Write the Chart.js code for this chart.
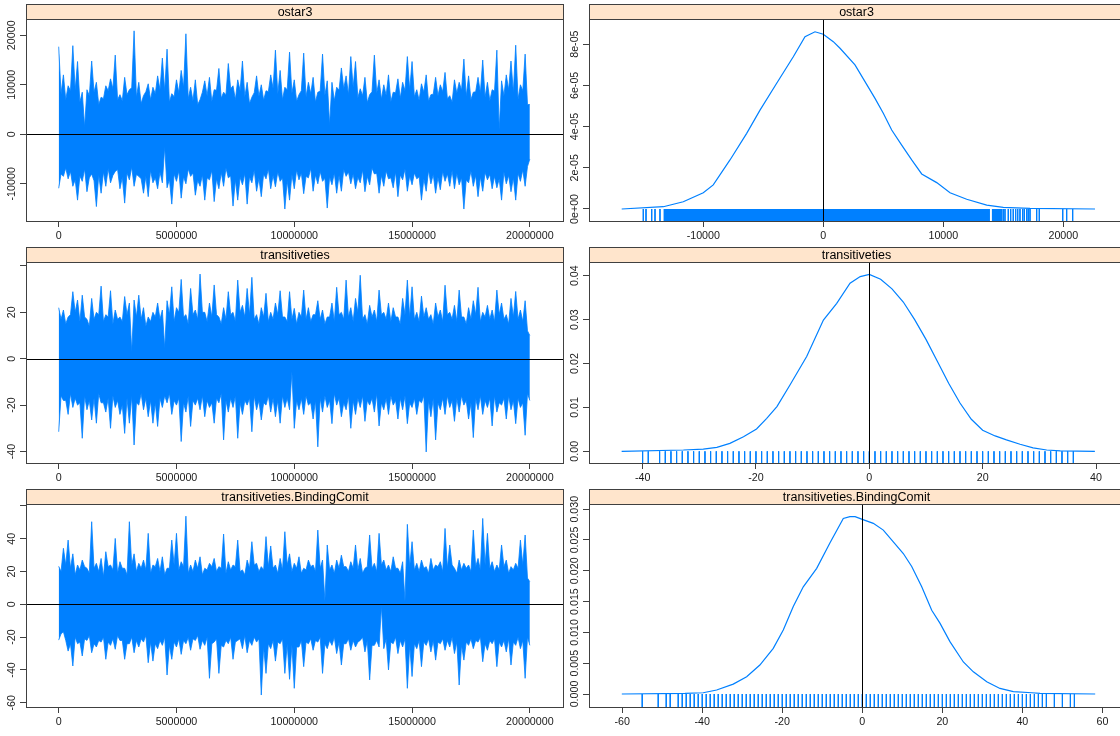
<!DOCTYPE html>
<html>
<head>
<meta charset="utf-8">
<script src="https://cdn.jsdelivr.net/npm/chart.js@4"></script>
<style>
  html, body { margin: 0; padding: 0; width: 1120px; height: 736px; overflow: hidden; background: #fff; }
  canvas { position: absolute; left: 0; top: 0; }
</style>
</head>
<body>
<script>
// MCMC diagnostics: trace (left) and density (right) for three ERGM terms

// iteration axis
const iterTicks = [0, 5000000, 10000000, 15000000, 20000000];
const thin = 200000;
const lastIter = 20000000;

// trace outline: block maxima/minima (hi, lo) and the levels the chain
// falls back to between them (vHi, vLo)
const ostar3Hi = [17700, 12000, 9800, 17900, 14700, 8500, 9000, 14800, 10500, 7500,
  9800, 11200, 16000, 8000, 11500, 9000, 20900, 10500, 7800, 10200,
  9500, 11800, 15400, 17200, 8200, 11000, 12900, 20300, 9500, 11000,
  7000, 10800, 11500, 9000, 13300, 8500, 14300, 9800, 11000, 14800,
  10500, 7500, 11800, 10000, 8800, 12000, 17000, 12900, 9500, 16600,
  11000, 8000, 16400, 10500, 11500, 8500, 16200, 10800, 10500, 9500,
  13400, 11800, 15700, 14700, 9200, 11500, 8000, 16000, 11000, 10000,
  12000, 8500, 11200, 10500, 15700, 14700, 9000, 10200, 12000, 8000,
  11500, 10000, 12500, 7800, 11000, 10500, 15200, 11800, 8500, 11500,
  15000, 10500, 9000, 17000, 10800, 12000, 14800, 18000, 10000, 16200,
  6000];
const ostar3VHi = [8200, 7000, 8800, 9000, 6500, 1500, 7800, 8500, 6000, 7200,
  8800, 9200, 7000, 6800, 8000, 9400, 7500, 6200, 8600, 7000,
  8200, 9000, 8800, 6500, 7600, 8400, 9500, 7200, 6800, 6000,
  8500, 7800, 6600, 8900, 7300, 8000, 9200, 7000, 8800, 7600,
  6200, 8400, 7700, 6900, 8600, 9300, 8100, 7000, 9000, 8300,
  6700, 8800, 7600, 8200, 6500, 8700, 7900, 1900, 6800, 8900,
  9200, 8000, 9500, 7400, 7800, 6400, 8600, 8300, 7100, 7900,
  6600, 8400, 7300, 8800, 9000, 7600, 6900, 8500, 6700, 8100,
  7800, 8600, 7200, 6500, 8300, 8900, 7700, 7000, 8600, 8400,
  7500, 6800, 8700, 900, 7800, 9000, 8500, 7100, 8800, 6000];
const ostar3Lo = [-10900, -8500, -9000, -10500, -13300, -9500, -11600, -8000, -14600, -11900,
  -10500, -9800, -7500, -11000, -13900, -9200, -10500, -8500, -11900, -12600,
  -9800, -11000, -9800, -10800, -14100, -9500, -12900, -10000, -8500, -12300,
  -10500, -13300, -9200, -13600, -11000, -10500, -8800, -14500, -13300, -10200,
  -14100, -9800, -11500, -12600, -9000, -11000, -10600, -9500, -15100, -13300,
  -11000, -9200, -12000, -8800, -11500, -10000, -9500, -14900, -10200, -11900,
  -11500, -8500, -10000, -11000, -9800, -11600, -10200, -8000, -11900, -10500,
  -9000, -10800, -12600, -9200, -11500, -10200, -9000, -13300, -11500, -10000,
  -11900, -11200, -9500, -10500, -11000, -10200, -15100, -9800, -10500, -12600,
  -11500, -9200, -11000, -10800, -13300, -10000, -11600, -13300, -9500, -10500,
  -5000];
const ostar3VLo = [-8000, -6800, -7500, -9200, -8400, -7000, -8800, -9400, -8200, -7600,
  -6900, -8300, -7100, -8700, -7800, -6600, -8100, -9000, -8500, -7300,
  -8800, -7600, -2500, -9100, -8000, -7400, -8600, -7000, -7800, -9300,
  -8200, -8800, -7300, -9000, -7700, -6800, -8400, -9200, -8700, -7900,
  -8600, -7200, -8900, -8000, -7000, -8300, -7600, -8800, -9400, -8100,
  -7200, -7800, -8500, -6900, -8200, -7500, -8900, -8600, -7800, -8300,
  -7100, -7600, -8000, -8700, -7200, -8500, -6800, -7900, -8300, -7400,
  -8800, -7600, -8200, -7000, -8400, -7800, -8600, -9000, -7300, -8100,
  -8700, -7500, -8000, -7300, -7900, -8800, -9200, -7400, -8300, -8600,
  -7700, -8100, -8500, -9000, -7600, -8300, -8800, -7900, -7200, -6500];

const transHi = [22, 21, 18, 28.9, 25.3, 27.4, 17, 26, 20, 31.3,
  19, 29.3, 21, 18, 26.8, 24, 25.3, 27.4, 22, 18,
  20, 24, 21, 25, 31, 22, 34.2, 19, 30.3, 21,
  36.5, 20, 24, 31.8, 18, 22, 28.9, 20, 33.9, 23,
  30.3, 35.1, 19, 22, 28.2, 20, 24, 29.3, 18, 28.9,
  21.7, 20, 29.6, 22, 19, 25, 21, 18, 24, 30.8,
  20, 33.9, 22, 26, 36, 19, 23, 21, 29.6, 20,
  24, 22, 18, 26, 33.9, 31, 20, 27, 22, 19,
  24, 21, 31.7, 20, 23, 29.6, 18, 22, 25, 30.8,
  20, 23, 21, 29.6, 24, 19, 26, 29, 21, 25,
  10];
const transVHi = [17, 15, 19, 20, 16, 18, 14, 17, 19, 16,
  18, 15, 17, 16, 19, 3, 18, 17, 14, 16,
  18, 17, 4.5, 19, 16, 20, 18, 15, 19, 17,
  20, 16, 18, 19, 15, 17, 19, 16, 20, 18,
  19, 17, 15, 18, 16, 17, 19, 18, 16, 17,
  15, 18, 17, 16, 19, 17, 15, 18, 16, 19,
  17, 18, 16, 20, 17, 15, 18, 16, 19, 17,
  16, 18, 15, 19, 18, 17, 16, 18, 17, 15,
  18, 16, 19, 17, 16, 18, 15, 17, 19, 16,
  18, 17, 16, 19, 17, 15, 18, 17, 16, 12];
const transLo = [-31.5, -18, -24, -21, -20, -34.3, -22, -26.4, -27.8, -19,
  -23, -30, -21, -24, -32.2, -27.8, -37.2, -20, -22, -25,
  -27.8, -29.2, -21, -19, -24, -20, -35.7, -23, -29.2, -20,
  -22, -25, -21, -27.8, -19, -35, -23, -21, -34.3, -24,
  -20, -31.5, -22, -26.4, -20, -23, -25, -27.8, -21, -22,
  -30, -22, -24, -20, -26, -38, -23, -21, -28, -20,
  -25, -22, -30, -24, -21, -27, -20, -23, -29, -22,
  -24, -20, -26, -22, -28, -21, -24, -19, -40.2, -25,
  -35, -22, -24, -21, -27, -23, -20, -26, -34, -22,
  -24, -21, -29, -23, -20, -26, -22, -28, -21, -33,
  -18];
const transVLo = [-16, -18, -15, -17, -19, -16, -18, -17, -15, -19,
  -17, -16, -18, -20, -17, -16, -19, -15, -17, -18,
  -19, -17, -16, -15, -18, -17, -19, -16, -18, -17,
  -16, -18, -19, -17, -15, -18, -17, -16, -19, -18,
  -17, -16, -18, -19, -16, -17, -18, -16, -17, -5.6,
  -18, -17, -16, -19, -18, -17, -16, -18, -15, -17,
  -19, -16, -18, -17, -16, -18, -17, -15, -19, -17,
  -16, -18, -17, -16, -19, -17, -18, -16, -18, -17,
  -19, -17, -16, -18, -17, -16, -18, -19, -17, -16,
  -18, -17, -16, -19, -17, -16, -18, -17, -19, -15];

const bindHi = [23.2, 34.2, 39.2, 30.8, 24, 27, 22, 50.4, 25, 28,
  32.1, 24, 40.2, 26, 22, 50.4, 30.8, 25, 27, 43.3,
  24, 28, 29, 22, 39.2, 43.3, 26, 53.8, 24, 27,
  29, 22, 25, 28, 23, 42.9, 26, 24, 39.2, 21,
  27, 38.2, 25, 23, 41.3, 35.6, 24, 28, 44.3, 30.8,
  25, 29, 22, 27, 24, 45.3, 27, 36.2, 24, 27,
  30, 23, 26, 36.2, 28, 22, 42.3, 25, 43.3, 27,
  24, 29, 22, 26, 48.8, 38.2, 25, 27, 23, 28,
  24, 26, 46.3, 36.2, 22, 27, 25, 24, 45.3, 28,
  52.4, 43.3, 26, 24, 36.2, 27, 23, 25, 39.2, 42.3,
  13.8];
const bindVHi = [20, 24, 22, 18, 21, 23, 19, 22, 20, 17,
  23, 21, 19, 22, 18, 24, 20, 22, 21, 19,
  23, 20, 18, 22, 24, 21, 23, 19, 20, 22,
  18, 21, 23, 20, 22, 19, 21, 23, 20, 18,
  22, 24, 20, 21, 23, 22, 19, 21, 24, 20,
  22, 19, 21, 23, 20, 22, 2, 21, 19, 22,
  23, 20, 22, 21, 19, 23, 22, 20, 24, 21,
  20, 22, 19, 2, 23, 21, 20, 22, 19, 21,
  23, 20, 22, 24, 19, 21, 22, 20, 23, 21,
  24, 22, 20, 21, 23, 19, 21, 22, 24, 16];
const bindLo = [-21.8, -16.7, -28.5, -37.6, -24, -31.5, -22, -29.5, -26, -23,
  -33.5, -25, -27.4, -22, -33.5, -24, -29.5, -26, -23, -35.6,
  -34.6, -27, -25, -43.1, -33.5, -26, -30.5, -24, -28, -22,
  -27.4, -25, -45.1, -23, -42.1, -26, -24, -33.5, -22, -27,
  -29.5, -25, -23, -55.3, -42.1, -27, -34.6, -24, -42.1, -45.7,
  -51.2, -26, -38, -24, -28, -23, -42.1, -27, -25, -30,
  -37, -24, -28, -26, -22, -29, -46.1, -25, -26, -27,
  -40, -24, -30, -26, -51.2, -44, -27, -38, -25, -29,
  -34, -24, -28, -26, -30, -49.2, -34, -25, -27, -23,
  -35, -28, -24, -38, -26, -29, -37, -25, -27, -45.1,
  -25];
const bindVLo = [-18, -22, -24, -20, -23, -21, -19, -24, -22, -20,
  -23, -21, -19, -22, -24, -20, -22, -21, -19, -23,
  -24, -22, -20, -25, -23, -21, -22, -20, -21, -19,
  -22, -20, -24, -21, -25, -22, -20, -23, -21, -19,
  -22, -20, -21, -26, -24, -22, -23, -21, -24, -25,
  -26, -22, -23, -21, -22, -20, -24, -22, -20, -23,
  -24, -21, -22, -23, -20, -22, -25, -22, -1, -21,
  -23, -20, -22, -21, -25, -24, -22, -23, -21, -22,
  -23, -21, -22, -20, -23, -25, -23, -21, -22, -20,
  -24, -22, -21, -23, -22, -21, -23, -20, -22, -20];

// kernel density estimates
const ostar3DensX = [-16800, -13330, -11670, -10000, -9170, -7775, -6385, -5275, -3885, -2500,
  -1525, -690, 0, 833, 1392, 2640, 3475, 4308, 5000, 5700,
  6533, 7367, 8200, 9450, 10560, 11950, 13620, 15000, 17225, 22640];
const ostar3DensY = [0, 0.11e-5, 0.35e-5, 0.79e-5, 1.17e-5, 2.38e-5, 3.67e-5, 4.8e-5, 6.1e-5, 7.39e-5,
  8.36e-5, 8.6e-5, 8.48e-5, 8.12e-5, 7.8e-5, 6.99e-5, 6.18e-5, 5.37e-5, 4.65e-5, 3.83e-5,
  3.1e-5, 2.38e-5, 1.7e-5, 1.28e-5, 0.79e-5, 0.47e-5, 0.19e-5, 0.08e-5, 0.03e-5, 0];

const transDensX = [-43.7, -32.8, -29.3, -26.9, -24.6, -22.2, -19.9, -18.1, -16.3, -14.0,
  -11.05, -8.1, -5.75, -3.4, -1.6, 0, 2, 4, 6, 8,
  10, 12, 14, 16, 18, 20, 22.2, 24.2, 26.6, 28.9,
  31.3, 33.7, 39.8];
const transDensY = [0, 0.0003, 0.0005, 0.0009, 0.0018, 0.0033, 0.0051, 0.0075, 0.0102, 0.0151,
  0.0216, 0.0299, 0.0337, 0.0383, 0.0398, 0.0403, 0.0392, 0.0370, 0.0340, 0.0300,
  0.0255, 0.0205, 0.0155, 0.0110, 0.0073, 0.0048, 0.0035, 0.0026, 0.0016, 0.0008,
  0.0003, 0.0001, 0];

const bindDensX = [-60.1, -44.3, -39.75, -36.4, -32.25, -28.9, -25.6, -22.25, -19.75, -17.25,
  -14.75, -11.4, -8.1, -4.75, -3.1, -1.8, 0, 2.75, 5.25, 7.75,
  10.25, 12.35, 14.85, 17.35, 19.4, 21.9, 25.25, 27.75, 31.1, 34.4,
  37.75, 42.35, 44.4, 58.2];
const bindDensY = [0, 0.0001, 0.0002, 0.00065, 0.0016, 0.0028, 0.0047, 0.0074, 0.0104, 0.0142,
  0.0174, 0.0204, 0.0245, 0.0285, 0.0288, 0.0288, 0.02835, 0.0277, 0.0266, 0.0247,
  0.0228, 0.0207, 0.0174, 0.0136, 0.0115, 0.0085, 0.0052, 0.0036, 0.002, 0.0009,
  0.0004, 0.0002, 0.0001, 0];

// rug: observed sample values (ostar3 is too dense, so its bulk is kept as ranges)
const ostar3RugBands = [[-13330, 13890], [14030, 14950]];
const ostar3Rug = [-15000, -14775, -14300, -14025, -13610, 15000, 15140, 15415, 15615, 15830,
  16030, 16200, 16390, 16615, 16750, 16950, 17080, 17225, 17780, 18000,
  19950, 20280, 20780];
const transRug = [-40, -39, -37, -36, -35, -34, -33, -32, -31, -30, -29, -28, -27, -26, -25,
  -24, -23, -22, -21, -20, -19, -18, -17, -16, -15, -14, -13, -12, -11, -10,
  -9, -8, -7, -6, -5, -4, -3, -2, -1, 0, 1, 2, 3, 4, 5, 6, 7, 8, 9, 10,
  11, 12, 13, 14, 15, 16, 17, 18, 19, 20, 21, 22, 23, 24, 25, 26, 27, 28, 29, 30,
  31, 32, 33, 34, 35, 36];
const bindRug = [-55, -51, -49, -48, -46, -45, -44, -43, -42, -41, -40, -39, -38, -37, -36,
  -35, -34, -33, -32, -31, -30, -29, -28, -27, -26, -25, -24, -23, -22, -21,
  -20, -19, -18, -17, -16, -15, -14, -13, -12, -11, -10, -9, -8, -7, -6,
  -5, -4, -3, -2, -1, 0, 1, 2, 3, 4, 5, 6, 7, 8, 9, 10, 11, 12, 13, 14,
  15, 16, 17, 18, 19, 20, 21, 22, 23, 24, 25, 26, 27, 28, 29, 30, 31, 32, 33,
  34, 35, 36, 37, 38, 39, 40, 41, 42, 43, 44, 45, 46, 48, 50, 52, 53];

// tick values and labels
const ostar3TraceTicks = [-10000, 0, 10000, 20000];
const ostar3TraceLabels = ['-10000', '0', '10000', '20000'];
const transTraceTicks = [-40, -20, 0, 20, 40];
const transTraceLabels = ['-40', '-20', '0', '20', ''];
const bindTraceTicks = [-60, -40, -20, 0, 20, 40, 60];
const bindTraceLabels = ['-60', '-40', '-20', '0', '20', '40', ''];

const ostar3DensTicks = [0, 2e-5, 4e-5, 6e-5, 8e-5];
const ostar3DensLabels = ['0e+00', '2e-05', '4e-05', '6e-05', '8e-05'];
const transDensTicks = [0, 0.01, 0.02, 0.03, 0.04];
const transDensLabels = ['0.00', '0.01', '0.02', '0.03', '0.04'];
const bindDensTicks = [0, 0.005, 0.01, 0.015, 0.02, 0.025, 0.03];
const bindDensLabels = ['0.000', '0.005', '0.010', '0.015', '0.020', '0.025', '0.030'];

const ostar3ValTicks = [-10000, 0, 10000, 20000];
const transValTicks = [-40, -20, 0, 20, 40];
const bindValTicks = [-60, -40, -20, 0, 20, 40, 60];

// ---- drawing ----
const FONT_FAMILY = '"Liberation Sans", Arial, Helvetica, sans-serif';
const BLUE = '#0080ff';
const W = 1128, H = 736;
const Y_AXIS_W = 20, X_AXIS_H = 30, STRIP_H = 15;

// outline alternating block extreme and in-between level
function outline(peaks, valleys) {
  const pts = [];
  peaks.forEach((v, i) => {
    pts.push({ x: i * thin, y: v });
    if (i < valleys.length) pts.push({ x: i * thin + thin / 2, y: valleys[i] });
  });
  return pts;
}

function curvePoints(xs, ys) {
  return xs.map((x, i) => ({ x, y: ys[i] }));
}

// rug ticks hang from the zero line down to the panel bottom
function rugPoints(vals, base) {
  const pts = [];
  vals.forEach(v => {
    pts.push({ x: v, y: 0 }, { x: v, y: base }, { x: v, y: NaN });
  });
  return pts;
}

const panelDecor = {
  id: 'panelDecor',
  afterDatasetsDraw(chart, args, opts) {
    const { ctx, chartArea: a } = chart;
    const xs = chart.scales.x, ys = chart.scales.y;
    ctx.save();
    ctx.strokeStyle = '#000';
    ctx.lineWidth = 1;
    ctx.beginPath();
    if (opts.zeroLine === 'h') {
      const py = Math.round(ys.getPixelForValue(0)) + 0.5;
      ctx.moveTo(a.left, py);
      ctx.lineTo(a.right, py);
    } else {
      const px = Math.round(xs.getPixelForValue(0)) + 0.5;
      ctx.moveTo(px, a.top);
      ctx.lineTo(px, a.bottom);
    }
    ctx.stroke();

    // box
    ctx.strokeStyle = '#404040';
    ctx.strokeRect(a.left + 0.5, a.top + 0.5, a.right - a.left - 1, a.bottom - a.top);

    // strip with variable name
    ctx.fillStyle = '#ffe5cc';
    ctx.fillRect(a.left, a.top - STRIP_H, a.right - a.left, STRIP_H);
    ctx.strokeRect(a.left + 0.5, a.top - STRIP_H + 0.5, a.right - a.left - 1, STRIP_H);
    ctx.fillStyle = '#000';
    ctx.font = '12.5px ' + FONT_FAMILY;
    ctx.textAlign = 'center';
    ctx.textBaseline = 'middle';
    ctx.fillText(opts.title, (a.left + a.right) / 2, a.top - STRIP_H / 2 + 1);

    // y labels, rotated like lattice
    ctx.font = '10.7px ' + FONT_FAMILY;
    ctx.fillStyle = '#1a1a1a';
    opts.yTicks.forEach((v, k) => {
      const lab = opts.yLabels[k];
      if (!lab) return;
      ctx.save();
      ctx.translate(a.left - 13.5, ys.getPixelForValue(v));
      ctx.rotate(-Math.PI / 2);
      ctx.fillText(lab, 0, 0);
      ctx.restore();
    });
    ctx.restore();
  }
};

function axis(min, max, ticks, size, showLabels) {
  return {
    type: 'linear',
    min, max,
    offset: false,
    afterBuildTicks: s => { s.ticks = ticks.map(v => ({ value: v })); },
    afterFit: s => { if (s.isHorizontal()) s.height = size; else s.width = size; },
    grid: { drawOnChartArea: false, drawTicks: true, tickLength: 6, color: '#404040', lineWidth: 1, offset: false },
    border: { display: false },
    ticks: {
      autoSkip: false, maxRotation: 0, minRotation: 0, padding: 3,
      color: showLabels ? '#1a1a1a' : 'rgba(0,0,0,0)',
      font: { family: FONT_FAMILY, size: 10.7 },
      callback: v => String(v)
    }
  };
}

function makePanel(p) {
  const c = document.createElement('canvas');
  c.width = W;
  c.height = H;
  document.body.appendChild(c);
  new Chart(c.getContext('2d'), {
    type: 'line',
    data: { datasets: p.datasets },
    options: {
      responsive: false,
      animation: false,
      devicePixelRatio: 1,
      events: [],
      layout: { padding: { left: p.left - Y_AXIS_W, right: W - p.right, top: p.top, bottom: H - p.bottom - X_AXIS_H } },
      scales: {
        x: axis(p.xMin, p.xMax, p.xTicks, X_AXIS_H, true),
        y: axis(p.yMin, p.yMax, p.yTicks, Y_AXIS_W, false)
      },
      elements: { point: { radius: 0 }, line: { tension: 0 } },
      plugins: {
        legend: { display: false },
        tooltip: { enabled: false },
        panelDecor: { title: p.title, yTicks: p.yTicks, yLabels: p.yLabels, zeroLine: p.zeroLine }
      }
    },
    plugins: [panelDecor]
  });
}

// filled band between the upper and lower outline
function traceSet(hi, vHi, lo, vLo) {
  return [
    { data: outline(hi, vHi), borderColor: BLUE, borderWidth: 0.8, backgroundColor: BLUE, fill: '+1' },
    { data: outline(lo, vLo), borderColor: BLUE, borderWidth: 0.8, fill: false }
  ];
}

function densitySet(xs, ys, rug, base, bands) {
  const sets = [
    { data: curvePoints(xs, ys), borderColor: BLUE, borderWidth: 1.2, fill: false },
    { data: rugPoints(rug, base), borderColor: BLUE, borderWidth: 1, fill: false, spanGaps: false }
  ];
  (bands || []).forEach(b => {
    sets.push({ data: [{ x: b[0], y: base }, { x: b[1], y: base }], borderWidth: 0, borderColor: BLUE, backgroundColor: BLUE, fill: 'origin' });
  });
  return sets;
}

const rows = [
  { top: 19, bottom: 221 },
  { top: 262, bottom: 463 },
  { top: 504, bottom: 707 }
];
const leftCol = { left: 26, right: 564, xMin: -1388000, xMax: 21450000 };
const rightCol = { left: 589, right: 1124 };

const panels = [
  { ...leftCol, ...rows[0], title: 'ostar3', zeroLine: 'h', xTicks: iterTicks,
    yMin: -17515, yMax: 23290, yTicks: ostar3TraceTicks, yLabels: ostar3TraceLabels,
    datasets: traceSet(ostar3Hi, ostar3VHi, ostar3Lo, ostar3VLo) },
  { ...leftCol, ...rows[1], title: 'transitiveties', zeroLine: 'h', xTicks: iterTicks,
    yMin: -44.96, yMax: 41.7, yTicks: transTraceTicks, yLabels: transTraceLabels,
    datasets: traceSet(transHi, transVHi, transLo, transVLo) },
  { ...leftCol, ...rows[2], title: 'transitiveties.BindingComit', zeroLine: 'h', xTicks: iterTicks,
    yMin: -62.6, yMax: 61.2, yTicks: bindTraceTicks, yLabels: bindTraceLabels,
    datasets: traceSet(bindHi, bindVHi, bindLo, bindVLo) },
  { ...rightCol, ...rows[0], title: 'ostar3', zeroLine: 'v', xTicks: ostar3ValTicks,
    xMin: -19525, xMax: 25058, yMin: -5.83e-6, yMax: 9.22e-5,
    yTicks: ostar3DensTicks, yLabels: ostar3DensLabels,
    datasets: densitySet(ostar3DensX, ostar3DensY, ostar3Rug, -5.83e-6, ostar3RugBands) },
  { ...rightCol, ...rows[1], title: 'transitiveties', zeroLine: 'v', xTicks: transValTicks,
    xMin: -49.46, xMax: 44.94, yMin: -0.002665, yMax: 0.04312,
    yTicks: transDensTicks, yLabels: transDensLabels,
    datasets: densitySet(transDensX, transDensY, transRug, -0.002665) },
  { ...rightCol, ...rows[2], title: 'transitiveties.BindingComit', zeroLine: 'v', xTicks: bindValTicks,
    xMin: -68.3, xMax: 65.4, yMin: -0.00211, yMax: 0.03084,
    yTicks: bindDensTicks, yLabels: bindDensLabels,
    datasets: densitySet(bindDensX, bindDensY, bindRug, -0.00211) }
];

panels.forEach(makePanel);
</script>
</body>
</html>
